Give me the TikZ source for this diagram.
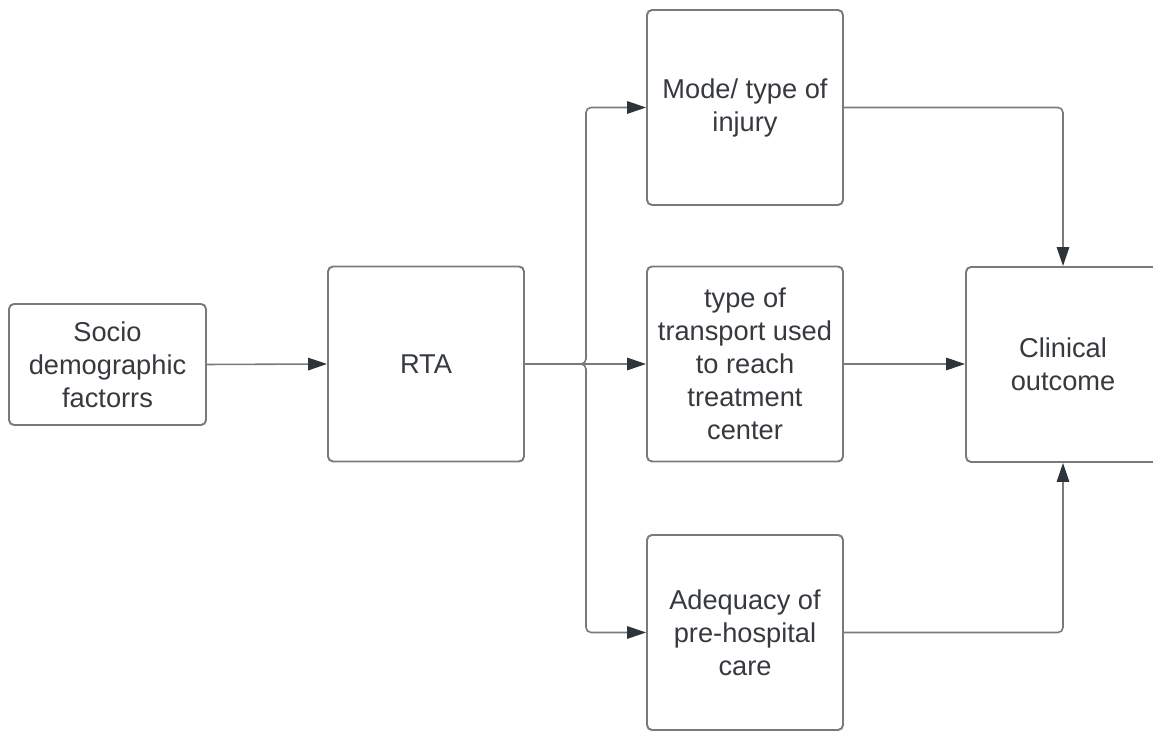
\documentclass[tikz,border=0pt]{standalone}
\usepackage{fontspec}
\setmainfont{Liberation Sans}
\usepackage{xcolor}
\usepackage{tikz}
\usetikzlibrary{arrows.meta,positioning}

\definecolor{boxline}{HTML}{7A7A7A}
\definecolor{tipcol}{HTML}{2E343B}
\definecolor{txtcol}{HTML}{363A3F}

\tikzset{
  blockbox/.style={draw=boxline, line width=1.1pt, rounded corners=0.1cm, fill=white,
    minimum width=3.92cm, minimum height=3.9cm, align=center, text=txtcol,
    font=\fontsize{15.5}{18.8}\selectfont, inner sep=0pt},
  link/.style={draw=boxline, line width=0.9pt, rounded corners=0.1cm,
    -{Triangle[length=0.38cm, width=0.25cm, fill=tipcol, color=tipcol]}}
}

\begin{document}
\begin{tikzpicture}

\useasboundingbox (0,0) rectangle (23.06,14.64);
\clip (0,0) rectangle (23.06,14.64);

\node[blockbox, minimum width=3.94cm, minimum height=2.42cm] (socio) at (2.15,7.35) {Socio\\demographic\\factorrs};
\node[blockbox] (rta) at (8.52,7.36) {RTA};

   \node[blockbox] (mode) at (14.9,12.49) {Mode/ type of\\injury};
   \node[blockbox] (transport) at (14.9,7.36) {type of\\transport used\\to reach\\treatment\\center};
   \node[blockbox] (adequacy) at (14.9,1.99) {Adequacy of\\pre-hospital\\care};

\node[blockbox, minimum width=3.88cm] (clinical) at (21.26,7.35) {Clinical\\outcome};

\coordinate (split) at (11.72,7.36);

% RTA fans out to the three boxes
\draw[link] (socio.east) -- (rta.west);
\draw[link] (rta.east) -- (split) |- (mode.west);
\draw[link] (rta.east) -- (transport.west);
\draw[link] (rta.east) -- (split) |- (adequacy.west);

% into the outcome
\draw[link] (mode.east) -| (clinical.north);
\draw[link] (transport.east) -- (transport.east -| clinical.west);
\draw[link] (adequacy.east) -| (clinical.south);

	\end{tikzpicture}
\end{document}
